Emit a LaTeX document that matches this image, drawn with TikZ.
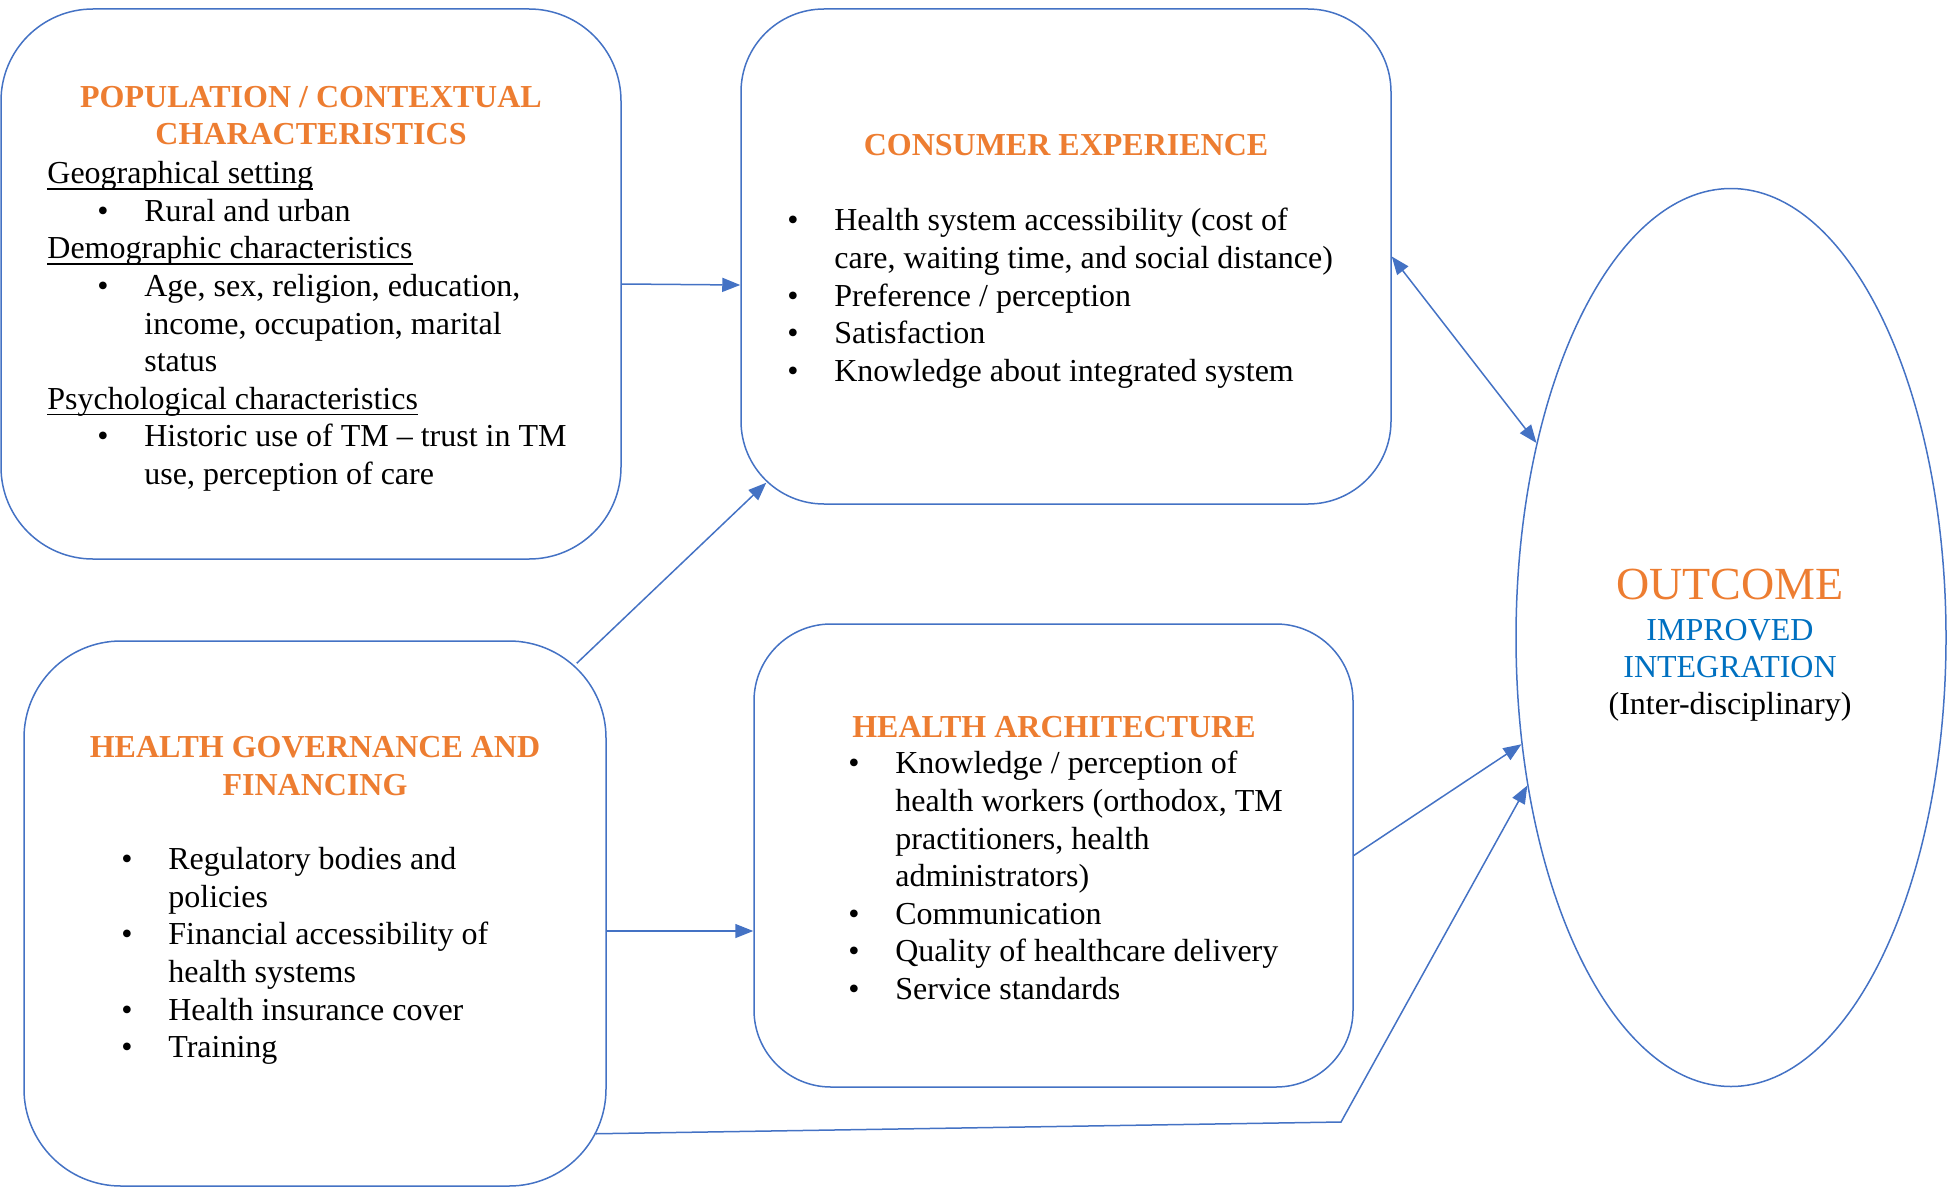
\documentclass[tikz,border=0pt]{standalone}
\usepackage{fontspec}
\setmainfont{Liberation Serif}
\usetikzlibrary{arrows.meta,shapes.geometric}
\definecolor{boxblue}{HTML}{4472C4}
\definecolor{headorange}{HTML}{ED7D31}
\definecolor{textblue}{HTML}{0070C0}
\newcommand{\bul}{\makebox[23.5pt][l]{\textbullet}}
\newcommand{\ind}{\hspace*{23.5pt}}
\newcommand{\ulin}[1]{\setbox0\hbox{#1}\rlap{\rule[-3pt]{\wd0}{0.7pt}}\box0}
\begin{document}
\begin{tikzpicture}[x=0.5pt,y=-0.5pt,
    >={Triangle[length=9pt,width=7pt]},
    box/.style={draw=boxblue,line width=0.75pt,inner sep=0pt},
    head/.style={font=\fontsize{16}{18.8}\selectfont\bfseries,text=headorange,align=center},
    body/.style={font=\fontsize{16}{18.8}\selectfont,align=left,anchor=north west,inner sep=0pt},
    link/.style={draw=boxblue,line width=0.75pt,->}]
    \useasboundingbox (0,0) rectangle (1952,1188);
    % the four boxes and the outcome
    \node [box,rounded corners=46pt,minimum width=310pt,minimum height=275pt] (pop) at (311,284) {};
    \node [box,rounded corners=41.5pt,minimum width=325pt,minimum height=247.5pt] (cons) at (1066,256.5) {};
    \node [box,rounded corners=48.5pt,minimum width=291pt,minimum height=272.5pt] (gov) at (315,913.5) {};
    \node [box,rounded corners=38.5pt,minimum width=299.5pt,minimum height=231.5pt] (arch) at (1053.5,855.5) {};
    \node [box,ellipse,minimum width=215pt,minimum height=449pt] (out) at (1731,637.5) {};
    % population
    \node [head] (popt) at (311,115.5) {POPULATION / CONTEXTUAL\\CHARACTERISTICS};
    \node [body] (popb) at (47,161) {\ulin{Geographical setting}\\
        \hspace*{25pt}\bul Rural and urban\\
        \ulin{Demographic characteristics}\\
        \hspace*{25pt}\bul Age, sex, religion, education,\\
        \hspace*{25pt}\ind income, occupation, marital\\
        \hspace*{25pt}\ind status\\
        \ulin{Psychological characteristics}\\
        \hspace*{25pt}\bul Historic use of TM -- trust in TM\\
        \hspace*{25pt}\ind use, perception of care};
    % consumer experience
    \node [head] (const) at (1066,145) {CONSUMER EXPERIENCE};
    \node [body] (consb) at (787,208) {\bul Health system accessibility (cost of\\
        \ind care, waiting time, and social distance)\\
        \bul Preference / perception\\
        \bul Satisfaction\\
        \bul Knowledge about integrated system};
    % governance
    \node [head] (govt) at (315,766) {HEALTH GOVERNANCE AND\\FINANCING};
    \node [body] (govb) at (121,847) {\bul Regulatory bodies and\\
        \ind policies\\
        \bul Financial accessibility of\\
        \ind health systems\\
        \bul Health insurance cover\\
        \bul Training};
    % architecture
    \node [head] (archt) at (1054,727) {HEALTH ARCHITECTURE};
    \node [body] (archb) at (848,751) {\bul Knowledge / perception of\\
        \ind health workers (orthodox, TM\\
        \ind practitioners, health\\
        \ind administrators)\\
        \bul Communication\\
        \bul Quality of healthcare delivery\\
        \bul Service standards};
    % outcome
    \node [font=\fontsize{23}{26}\selectfont,text=headorange] (outt) at (1730,584) {OUTCOME};
    \node [font=\fontsize{16}{18.6}\selectfont,align=center,anchor=north,inner sep=0pt] (outb) at (1730,619)
        {\textcolor{textblue}{IMPROVED}\\\textcolor{textblue}{INTEGRATION}\\(Inter-disciplinary)};
    % arrows
    \coordinate (g1) at ([xshift=-15pt,yshift=-11.5pt]gov.north east);
    \coordinate (c1) at ([xshift=13pt,yshift=11pt]cons.south west);
    \coordinate (g2) at ([yshift=-8.75pt]gov.east);
    \coordinate (g3) at ([xshift=-5.5pt,yshift=26.5pt]gov.south east);
    \coordinate (bend) at (1341,1122);
    \draw [link] (pop.east) -- (cons.185.5);
    \draw [link] (g1) -- (c1);
    \draw [link] (g2) -- (g2 -| arch.west);
    \draw [link] (arch.east) -- (out.207.5);
    \draw [link] (g3) -- (bend) -- (out.216);
    \draw [link,<->] (cons.east) -- (out.135.2);
\end{tikzpicture}
\end{document}
